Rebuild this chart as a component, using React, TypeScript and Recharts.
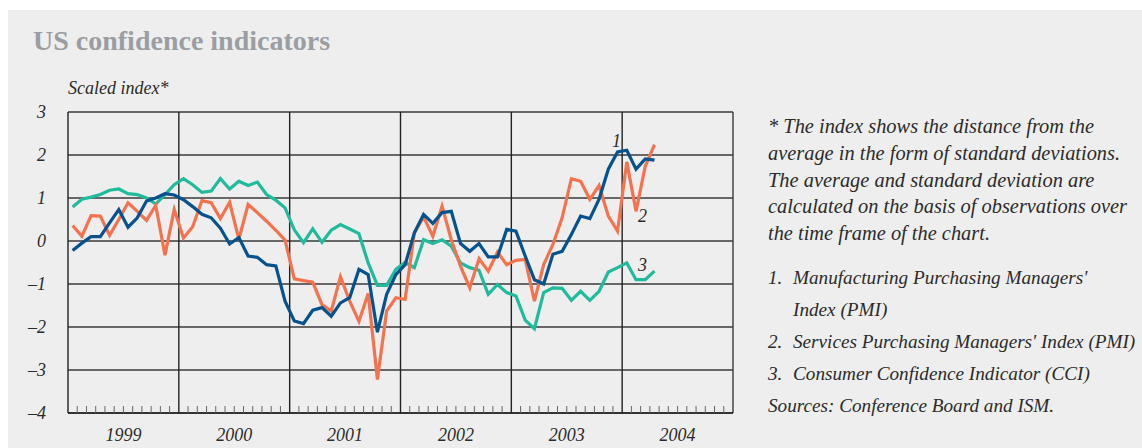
import { CartesianGrid, Line, LineChart, ReferenceLine, XAxis, YAxis } from 'recharts';

const years = ['1999', '2000', '2001', '2002', '2003', '2004'];
const yTicks = [-4, -3, -2, -1, 0, 1, 2, 3];

// monthly, Jan 1999 .. Apr 2004
const manufacturingPmi = [
    -0.22, -0.05, 0.1, 0.1, 0.42, 0.73, 0.32, 0.54, 0.93, 1.0, 1.1, 1.07,
    0.96, 0.8, 0.62, 0.54, 0.3, -0.07, 0.08, -0.35, -0.38, -0.55, -0.58, -1.4,
    -1.86, -1.92, -1.61, -1.55, -1.75, -1.44, -1.32, -0.66, -0.78, -2.12, -1.24, -0.78,
    -0.55, 0.19, 0.62, 0.41, 0.66, 0.69, -0.06, -0.24, -0.06, -0.37, -0.37, 0.27,
    0.23, -0.35, -0.9, -1.0, -0.31, -0.24, 0.15, 0.58, 0.52, 0.97, 1.67, 2.07,
    2.11, 1.67, 1.91, 1.88,
];
const servicesPmi = [
    0.36, 0.11, 0.59, 0.58, 0.13, 0.5, 0.89, 0.69, 0.48, 0.83, -0.33, 0.73,
    0.07, 0.33, 0.94, 0.89, 0.52, 0.9, 0.04, 0.85, 0.66, 0.46, 0.25, 0.02,
    -0.88, -0.92, -0.96, -1.48, -1.63, -0.83, -1.4, -1.87, -1.22, -3.22, -1.63, -1.32,
    -1.36, 0.19, 0.56, 0.11, 0.81, 0.03, -0.59, -1.09, -0.41, -0.7, -0.26, -0.55,
    -0.45, -0.43, -1.4, -0.55, -0.08, 0.54, 1.45, 1.39, 0.97, 1.29, 0.58, 0.23,
    1.84, 0.69, 1.74, 2.24,
];
const consumerConfidence = [
    0.79, 0.97, 1.02, 1.08, 1.18, 1.21, 1.1, 1.08, 1.0, 0.86, 1.08, 1.31,
    1.45, 1.31, 1.13, 1.16, 1.45, 1.21, 1.39, 1.29, 1.37, 1.08, 0.95, 0.77,
    0.26, -0.04, 0.28, -0.03, 0.25, 0.38, 0.28, 0.17, -0.51, -1.03, -1.03, -0.66,
    -0.5, -0.62, 0.03, -0.06, 0.03, -0.12, -0.51, -0.62, -0.68, -1.24, -1.01, -1.2,
    -1.28, -1.84, -2.04, -1.2, -1.09, -1.1, -1.38, -1.17, -1.38, -1.17, -0.72, -0.62,
    -0.51, -0.9, -0.9, -0.7,
];

const noteLines = [
    '* The index shows the distance from the',
    'average in the form of standard deviations.',
    'The average and standard deviation are',
    'calculated on the basis of observations over',
    'the time frame of the chart.',
];

const data = manufacturingPmi.map((v, i) => ({
    t: i + 0.5,
    mfg: v,
    svc: servicesPmi[i],
    cci: consumerConfidence[i],
}));

const monthTicks = Array.from({ length: years.length * 12 + 1 }, (_, i) => i);
const yearLines = years.slice(1).map((_, i) => (i + 1) * 12);

const font = '"Liberation Serif", "DejaVu Serif", serif';
const ink = '#2b2b2b';

function MonthTick(props: any) {
    const { x, y, payload } = props;
    const v = payload.value as number;
    return (
        <g>
            {v % 12 !== 0 && <line x1={x} x2={x} y1={y} y2={y - 7} stroke="#666" strokeWidth={1} />}
            {v % 12 === 6 && (
                <text x={x} y={y + 28} textAnchor="middle" fontFamily={font} fontStyle="italic" fontSize={18} fill={ink}>
                    {years[Math.floor(v / 12)]}
                </text>
            )}
        </g>
    );
}

export default function App() {
    return (
        <div style={{ position: 'absolute', left: 8, top: 10, width: 1134, height: 438, background: '#eeeeee', overflow: 'hidden' }}>
            <LineChart width={740} height={438} data={data} margin={{ top: 102, right: 15, bottom: 0, left: 0 }}>
                <CartesianGrid vertical={false} stroke="#3a3a3a" strokeWidth={1.4} />
                <XAxis
                    dataKey="t"
                    type="number"
                    domain={[0, 72]}
                    ticks={monthTicks}
                    interval={0}
                    height={35}
                    tickSize={0}
                    tickMargin={0}
                    tick={<MonthTick />}
                    axisLine={{ stroke: '#222', strokeWidth: 1.4 }}
                />
                <YAxis
                    domain={[-4, 3]}
                    ticks={yTicks}
                    width={60}
                    tickLine={false}
                    tickMargin={16}
                    axisLine={{ stroke: '#222', strokeWidth: 1.4 }}
                    tickFormatter={(v: number) => String(v).replace('-', '\u2013')}
                    tick={{ fontFamily: font, fontStyle: 'italic', fontSize: 18, fill: ink }}
                />
                {yearLines.map((x) => (
                    <ReferenceLine key={x} x={x} stroke="#222" strokeWidth={1.4} />
                ))}
                <ReferenceLine x={72} stroke="#3a3a3a" strokeWidth={1.4} />
                <Line dataKey="cci" stroke="#1fbb9c" strokeWidth={3.2} dot={false} isAnimationActive={false} strokeLinejoin="miter" />
                <Line dataKey="svc" stroke="#f4724d" strokeWidth={3.2} dot={false} isAnimationActive={false} strokeLinejoin="miter" />
                <Line dataKey="mfg" stroke="#05528d" strokeWidth={3.2} dot={false} isAnimationActive={false} strokeLinejoin="miter" />
            </LineChart>
            <svg width={1134} height={438} style={{ position: 'absolute', left: 0, top: 0, pointerEvents: 'none' }}>
                <text x={25} y={40} fontFamily={font} fontWeight="bold" fontSize={28} fill="#9a9ea2">
                    US confidence indicators
                </text>
                <text x={60} y={84} fontFamily={font} fontStyle="italic" fontSize={18} fill={ink}>
                    Scaled index*
                </text>
                <g fontFamily={font} fontStyle="italic" fontSize={18} fill={ink}>
                    <text x={604} y={137}>1</text>
                    <text x={630} y={212}>2</text>
                    <text x={630} y={261}>3</text>
                </g>
                <g fontFamily={font} fontStyle="italic" fontSize={20.4} fill={ink}>
                    {noteLines.map((line, i) => (
                        <text key={i} x={760} y={123 + i * 26.8}>
                            {line}
                        </text>
                    ))}
                </g>
                <g fontFamily={font} fontStyle="italic" fontSize={19.2} fill={ink}>
                    <text x={760} y={274}>1.</text>
                    <text x={785} y={274}>Manufacturing Purchasing Managers'</text>
                    <text x={785} y={306}>Index (PMI)</text>
                    <text x={760} y={338}>2.</text>
                    <text x={785} y={338}>Services Purchasing Managers' Index (PMI)</text>
                    <text x={760} y={370}>3.</text>
                    <text x={785} y={370}>Consumer Confidence Indicator (CCI)</text>
                    <text x={760} y={402}>Sources: Conference Board and ISM.</text>
                </g>
            </svg>
        </div>
    );
}
